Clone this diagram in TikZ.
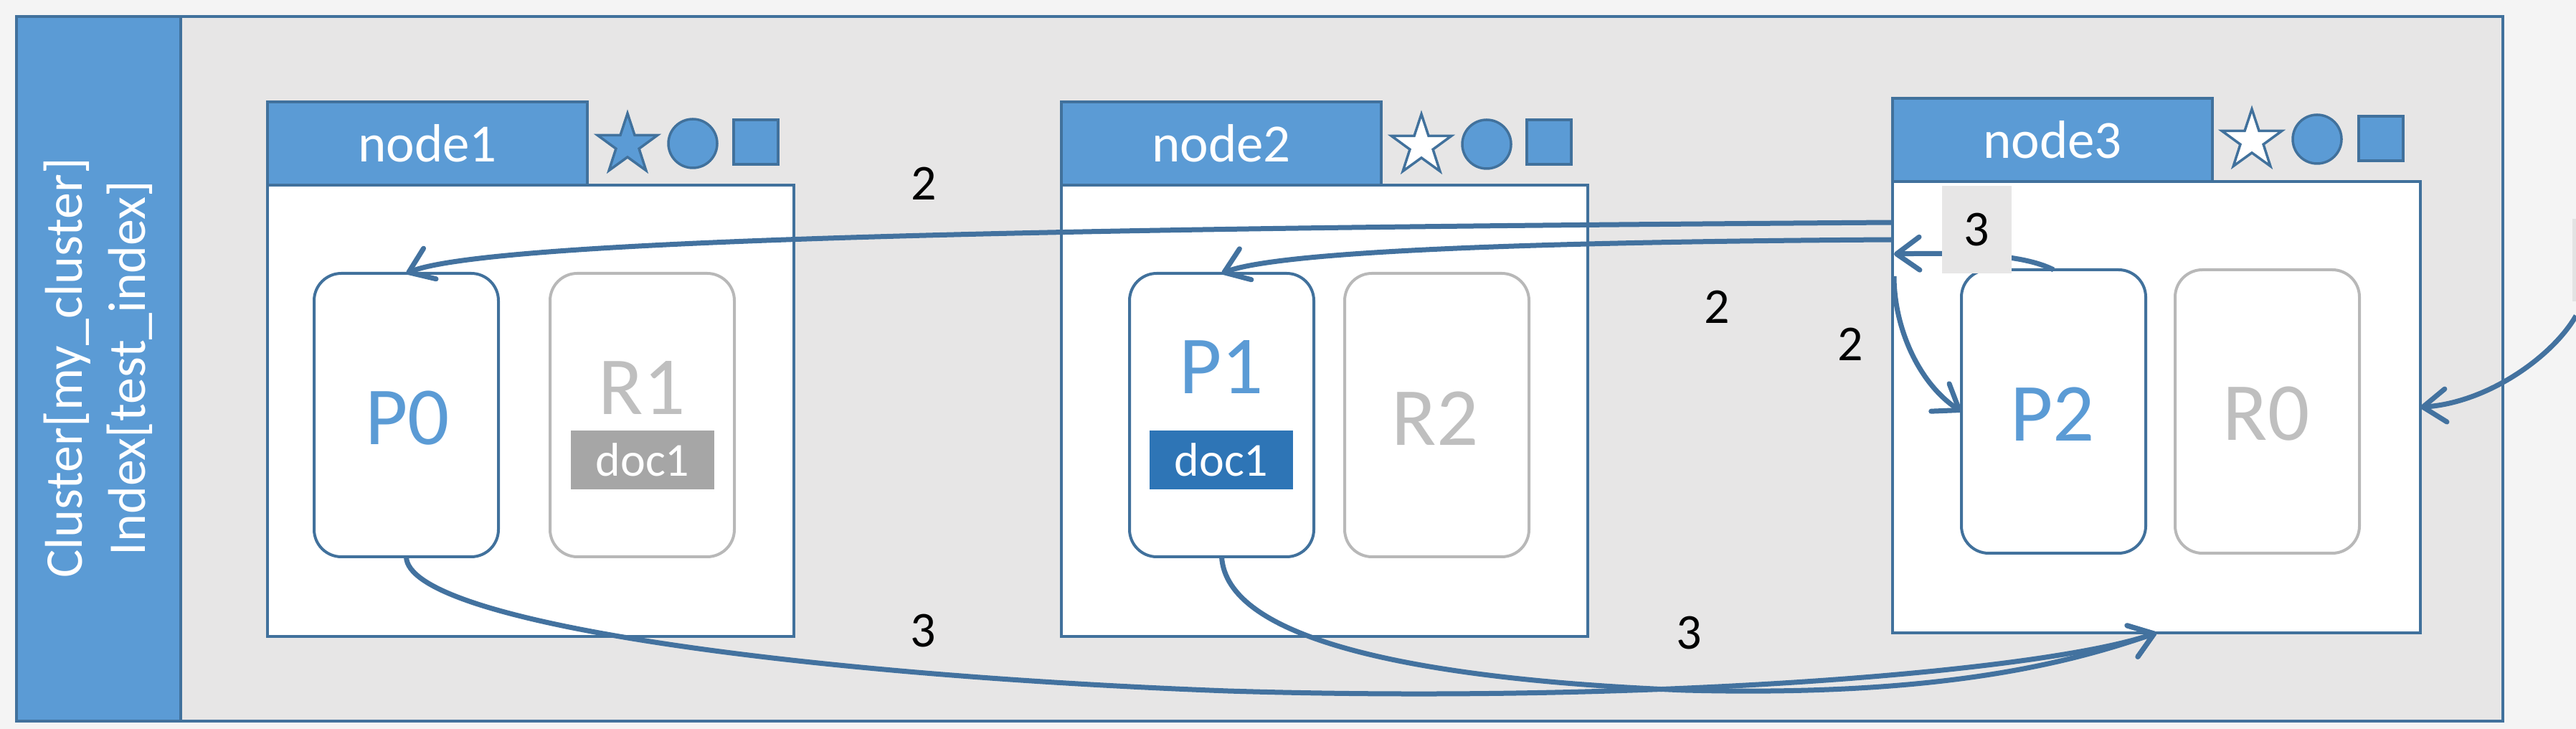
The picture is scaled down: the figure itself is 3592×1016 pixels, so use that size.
\documentclass[tikz,border=0pt]{standalone}
\usepackage{fontspec}
\setmainfont{Carlito}
\usetikzlibrary{shapes.geometric,arrows.meta}
\definecolor{bandblue}{HTML}{5B9BD5}
\definecolor{edgeblue}{HTML}{41719C}
\definecolor{arrowblue}{HTML}{43729F}
\definecolor{panelgray}{HTML}{E7E6E6}
\definecolor{outgray}{HTML}{F4F4F4}
\definecolor{rgray}{HTML}{BFBFBF}
\definecolor{rborder}{HTML}{B8B8B8}
\definecolor{docgray}{HTML}{A6A6A6}
\definecolor{docblue}{HTML}{2E75B6}
\begin{document}
\begin{tikzpicture}[x=1pt,y=1pt,
  every node/.style={inner sep=0pt, outer sep=0pt},
  hdr/.style={draw=edgeblue, line width=3.5pt, fill=bandblue, text=white, minimum width=446pt, minimum height=116pt, anchor=north west, font=\fontsize{75}{90}\selectfont},
  nbody/.style={draw=edgeblue, line width=3.5pt, fill=white, minimum height=629pt, anchor=north west},
  pbox/.style={draw=edgeblue, line width=4pt, fill=white, rounded corners=38pt, minimum width=257pt, minimum height=395pt, anchor=north west},
  rbox/.style={pbox, draw=rborder},
  ptext/.style={text=bandblue, font=\fontsize{115}{130}\selectfont},
  rtext/.style={text=rgray, font=\fontsize{115}{130}\selectfont},
  docbox/.style={minimum width=200pt, minimum height=82pt, text=white, font=\fontsize{66}{80}\selectfont},
  num/.style={text=black, font=\fontsize{70}{84}\selectfont},
  conn/.style={draw=arrowblue, line width=7pt, -{Straight Barb[length=32pt,width=46pt,round]}},
  starfull/.style={star, star points=5, star point ratio=2.6, minimum size=88pt, draw=edgeblue, line width=3.5pt, fill=bandblue},
  starhollow/.style={starfull, fill=white},
  roundicon/.style={circle, minimum size=68pt, draw=edgeblue, line width=3.5pt, fill=bandblue},
  squareicon/.style={rectangle, minimum size=62pt, draw=edgeblue, line width=3.5pt, fill=bandblue},
]
\useasboundingbox (0,0) rectangle (3592,1016);
\fill[outgray] (0,0) rectangle (3592,1016);
\node[fill=gray!22, anchor=south west, minimum width=8pt, minimum height=115pt] (edgebox) at (3587,596) {};
% frame and band
\node[draw=edgeblue, line width=3.5pt, fill=panelgray, anchor=south west, minimum width=3467pt, minimum height=982pt] (frame) at (23,11) {};
\node[draw=edgeblue, line width=3.5pt, fill=bandblue, anchor=south west, minimum width=229pt, minimum height=982pt] (band) at (23,11) {};
\node[rotate=90, text=white, align=center, font=\fontsize{74}{88}\selectfont] (bandtext) at (137,503) {Cluster[my\_cluster]\\Index[test\_index]};
% node bodies and headers
\node[nbody, minimum width=734pt] (n1body) at (373,758) {};
\node[nbody, minimum width=734pt] (n2body) at (1480,758) {};
\node[nbody, minimum width=736pt] (n3body) at (2639,763) {};
\node[hdr] (n1head) at (373,874) {node1};
\node[hdr] (n2head) at (1480,874) {node2};
\node[hdr] (n3head) at (2639,879) {node3};
% icons
\node[starfull] (n1star) at (875,814) {};
\node[roundicon] (n1circ) at (966,816) {};
\node[squareicon] (n1sq) at (1054,818) {};
\node[starhollow] (n2star) at (1982,813) {};
\node[roundicon] (n2circ) at (2073,815) {};
\node[squareicon] (n2sq) at (2160,818) {};
\node[starhollow] (n3star) at (3140,820) {};
\node[roundicon] (n3circ) at (3231,822) {};
\node[squareicon] (n3sq) at (3320,823) {};
% shards
\node[pbox] (P0) at (438,635) {};
\node[rbox] (R1) at (767,635) {};
\node[pbox] (P1) at (1575,635) {};
\node[rbox] (R2) at (1875,635) {};
\node[pbox] (P2) at (2735,640) {};
\node[rbox] (R0) at (3033,640) {};
\node[ptext] (P0t) at (568,433) {P0};
\node[rtext] (R1t) at (895,475) {R1};
\node[docbox, fill=docgray] (doc1a) at (896,375) {doc1};
\node[ptext] (P1t) at (1703,504) {P1};
\node[docbox, fill=docblue] (doc1b) at (1703,375) {doc1};
\node[rtext] (R2t) at (2001,433) {R2};
\node[ptext] (P2t) at (2862,439) {P2};
\node[rtext] (R0t) at (3160,439) {R0};
% connector end points
\coordinate (s1) at (2639,706);
\coordinate (s2) at (2639,682);
\coordinate (s3) at (2641,662);
\coordinate (s4) at (2641,631);
\coordinate (ext) at (3592,576);
\draw[conn] (s1) .. controls (1800,700) and (700,690) .. (P0.north);
\draw[conn] (s2) .. controls (2300,680) and (1800,672) .. (P1.north);
\draw[conn] (P2.north) .. controls (2820,662) and (2740,664) .. (s3);
\draw[conn] (s4) .. controls (2641,560) and (2675,482) .. (P2.west);
\draw[conn] (P0.south) .. controls (568,150) and (1100,76) .. (1712,53) .. controls (2300,35) and (2850,80) .. (n3body.south);
\draw[conn] (P1.south) .. controls (1710,130) and (1950,70) .. (2350,54) .. controls (2700,45) and (2880,90) .. (n3body.south);
\draw[conn] (ext) .. controls (3560,520) and (3470,455) .. (n3body.east);
% labels
\node[num, fill=panelgray, minimum width=97pt, minimum height=122pt] (l6) at (2756,696) {3};
\node[num] (l1) at (1288,760) {2};
\node[num] (l2) at (2394,588) {2};
\node[num] (l3) at (2580,536) {2};
\node[num] (l4) at (1287,137) {3};
\node[num] (l5) at (2355,134) {3};
\end{tikzpicture}
\end{document}
